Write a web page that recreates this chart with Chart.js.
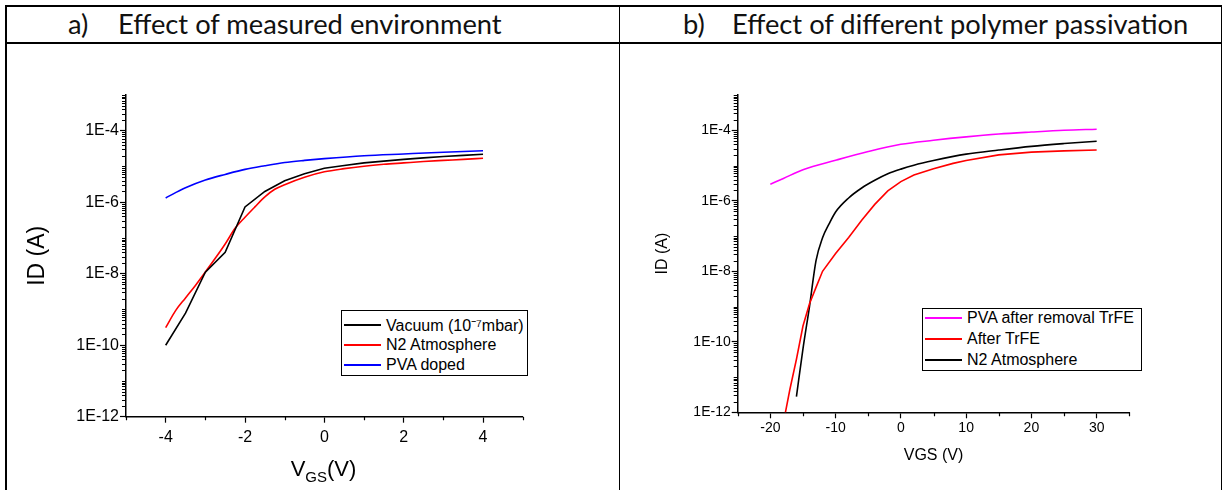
<!DOCTYPE html>
<html>
<head>
<meta charset="utf-8">
<script src="https://cdn.jsdelivr.net/npm/chart.js@4.4.0/dist/chart.umd.min.js"></script>
<style>
  html, body { margin: 0; padding: 0; background: #fff; }
  #page { position: relative; width: 1224px; height: 490px; overflow: hidden; font-family: 'Liberation Sans', Arial, sans-serif; color: #000; }
  .rule { position: absolute; background: #000; }
  .title { position: absolute; top: 5px; height: 38px; line-height: 38px; font-family: Lato, 'Open Sans', sans-serif; font-size: 27.3px; white-space: nowrap; color: #111; }
  .panel { position: absolute; }
  .legend { position: absolute; box-sizing: border-box; border: 1.3px solid #000; background: #fff; font-size: 16px; }
  .legend .row { position: absolute; left: 0; height: 20px; display: flex; align-items: center; white-space: nowrap; }
  .legend .swatch { display: inline-block; width: 37px; height: 0; border-top: 2px solid; margin: 0 5px 0 2px; }
  .xtitle { position: absolute; font-size: 22px; line-height: 22px; white-space: nowrap; transform: translateX(-50%); }
  .xtitle sub { font-size: 15px; vertical-align: -6px; }
</style>
</head>
<body>
<div id="page">
  <div class="rule" style="left:5px;top:5px;width:1217px;height:1.5px"></div>
  <div class="rule" style="left:5px;top:42px;width:1217px;height:1.5px"></div>
  <div class="rule" style="left:5px;top:5px;width:1.5px;height:485px"></div>
  <div class="rule" style="left:618.5px;top:5px;width:1.5px;height:485px"></div>
  <div class="rule" style="left:1220.5px;top:5px;width:1.5px;height:485px"></div>

  <div class="title" style="left:68px">a)</div>
  <div class="title" style="left:118px">Effect of measured environment</div>
  <div class="title" style="left:683px">b)</div>
  <div class="title" style="left:732px">Effect of different polymer passivation</div>

  <div class="panel" style="left:6px;top:44px;width:612px;height:446px"><canvas id="chartA"></canvas></div>
  <div class="panel" style="left:621px;top:44px;width:600px;height:446px"><canvas id="chartB"></canvas></div>

  <div class="xtitle" style="left:323.5px;top:458px">V<sub>GS</sub>(V)</div>

  <div class="legend" id="legendA" style="left:341px;top:310px;width:187px;height:66px"></div>
  <div class="legend" id="legendB" style="left:922px;top:308px;width:220px;height:63px"></div>
</div>

<script>
// ---- panel a : effect of measured environment ----
const vgsVacuum = [-4, -3.5, -3, -2.5, -2, -1.5, -1, -0.5, 0, 0.5, 1, 1.5, 2, 2.5, 3, 3.5, 4]
const idVacuum = [1.0e-10, 7.9e-10, 1.1e-8, 4.0e-8, 7.4e-7, 2.0e-6, 4.0e-6, 6.3e-6, 8.9e-6, 1.07e-5, 1.26e-5, 1.41e-5, 1.58e-5, 1.74e-5, 1.9e-5, 2.04e-5, 2.19e-5]

const vgsN2 = [-4, -3.75, -3.5, -3.25, -3, -2.75, -2.5, -2.25, -2, -1.75, -1.5, -1.25, -1, -0.5, 0, 0.5, 1, 1.5, 2, 2.5, 3, 3.5, 4]
const idN2 = [3.1e-10, 9.3e-10, 2.1e-9, 4.7e-9, 1.12e-8, 2.7e-8, 6.8e-8, 1.86e-7, 3.8e-7, 7.4e-7, 1.41e-6, 2.3e-6, 3.1e-6, 5.0e-6, 7.1e-6, 8.7e-6, 1.02e-5, 1.15e-5, 1.26e-5, 1.38e-5, 1.48e-5, 1.58e-5, 1.7e-5]

const vgsPva = [-4, -3.75, -3.5, -3, -2.5, -2, -1.5, -1, -0.5, 0, 1, 2, 3, 4]
const idPva = [1.32e-6, 1.86e-6, 2.55e-6, 4.2e-6, 6.0e-6, 8.3e-6, 1.05e-5, 1.29e-5, 1.48e-5, 1.66e-5, 2.0e-5, 2.24e-5, 2.5e-5, 2.75e-5]

const labelsA = ['Vacuum (10\u207B\u2077mbar)', 'N2 Atmosphere', 'PVA doped']
const xTicksA = [-4, -2, 0, 2, 4]
const xMinorA = [-5, -3, -1, 1, 3, 5]

// ---- panel b : effect of different polymer passivation ----
const vgsPvaRemoved = [-20, -18, -15, -10, -5, 0, 5, 10, 15, 20, 25, 30]
const idPvaRemoved = [2.95e-6, 4.3e-6, 7.6e-6, 1.41e-5, 2.5e-5, 4.0e-5, 5.2e-5, 6.5e-5, 7.8e-5, 8.9e-5, 1.0e-4, 1.07e-4]

const vgsTrfe = [-18, -17, -16, -15, -14, -13, -12, -10, -8, -6, -4, -2, 0, 2, 5, 8, 10, 15, 20, 25, 30]
const idTrfe = [5.0e-13, 4.5e-12, 3.2e-11, 2.8e-10, 1.2e-9, 3.5e-9, 1.0e-8, 3.2e-8, 9.1e-8, 2.8e-7, 7.9e-7, 1.9e-6, 3.5e-6, 5.4e-6, 8.1e-6, 1.15e-5, 1.38e-5, 2.0e-5, 2.4e-5, 2.6e-5, 2.75e-5]

const vgsN2B = [-16, -15, -14, -13, -12, -11, -10, -8, -6, -4, -2, 0, 2, 5, 10, 15, 20, 25, 30]
const idN2B = [2.8e-12, 6.3e-11, 1.0e-9, 2.0e-8, 8.9e-8, 2.2e-7, 4.8e-7, 1.2e-6, 2.3e-6, 3.8e-6, 5.8e-6, 7.9e-6, 1.02e-5, 1.38e-5, 2.1e-5, 2.75e-5, 3.5e-5, 4.2e-5, 4.9e-5]

const labelsB = ['PVA after removal TrFE', 'After TrFE', 'N2 Atmosphere']
const xTicksB = [-20, -10, 0, 10, 20, 30]
const xMinorB = [-25, -15, -5, 5, 15, 25, 35]

// shared log axis
const yTickValues = [1e-12, 1e-10, 1e-8, 1e-6, 1e-4]
const yTickLabels = ['1E-12', '1E-10', '1E-8', '1E-6', '1E-4']

Chart.defaults.font.family = "'Liberation Sans', Arial, sans-serif"
Chart.defaults.color = '#000'

const toPoints = (xs, ys) => xs.map((x, i) => ({ x: x, y: ys[i] }))

// small unlabeled ticks on both axes (origin style)
const minorTicks = {
    id: 'minorTicks',
    afterDraw(chart, args, opts) {
        const { ctx } = chart
        const xs = chart.scales.x
        const ys = chart.scales.y
        ctx.save()
        ctx.strokeStyle = '#000'
        ctx.lineWidth = 1.2
        ctx.beginPath()
        opts.xValues.forEach(v => {
            const px = Math.round(xs.getPixelForValue(v)) + 0.5
            ctx.moveTo(px, xs.top)
            ctx.lineTo(px, xs.top + opts.xLength)
        })
        for (let e = -12; e <= -3; e++) {
            for (let k = 1; k <= 9; k++) {
                if (e === -3 && k > 1) break
                if (k === 1 && e % 2 === 0 && e !== -3) continue
                const py = Math.round(ys.getPixelForValue(k * Math.pow(10, e))) + 0.5
                ctx.moveTo(ys.right - opts.yLength, py)
                ctx.lineTo(ys.right, py)
            }
        }
        ctx.stroke()
        ctx.restore()
    }
}

const makeChart = (id, datasets, cfg) => {
    return new Chart(document.getElementById(id), {
        type: 'line',
        data: { datasets: datasets },
        plugins: [minorTicks],
        options: {
            responsive: true,
            maintainAspectRatio: false,
            animation: false,
            layout: { padding: { left: 0, top: cfg.top, right: cfg.right, bottom: 0 } },
            elements: { point: { radius: 0 }, line: { tension: 0, borderWidth: 1.6 } },
            plugins: {
                legend: { display: false },
                tooltip: { enabled: false },
                minorTicks: { xValues: cfg.xMinor, xLength: cfg.minorLen, yLength: 4 }
            },
            scales: {
                x: {
                    type: 'linear',
                    min: cfg.xMin,
                    max: cfg.xMax,
                    afterBuildTicks: s => { s.ticks = cfg.xTicks.map(v => ({ value: v })) },
                    afterFit: s => { s.height = cfg.xHeight },
                    border: { display: true, color: '#000', width: 1.5 },
                    grid: { drawOnChartArea: false, drawTicks: true, tickLength: 6, tickColor: '#000', tickWidth: 1.2 },
                    ticks: { font: { size: cfg.tickSize }, padding: cfg.xTickPad, maxRotation: 0, autoSkip: false, callback: v => String(v) },
                    title: cfg.xTitle
                },
                y: {
                    type: 'logarithmic',
                    min: 1e-12,
                    max: 1e-3,
                    afterBuildTicks: s => { s.ticks = yTickValues.map(v => ({ value: v })) },
                    afterFit: s => { s.width = cfg.yWidth },
                    border: { display: true, color: '#000', width: 1.5 },
                    grid: { drawOnChartArea: false, drawTicks: true, tickLength: 6, tickColor: '#000', tickWidth: 1.2 },
                    ticks: { font: { size: cfg.tickSize }, padding: 1, autoSkip: false, callback: (v, i) => yTickLabels[i] },
                    title: cfg.yTitle
                }
            }
        }
    })
}

const chartA = makeChart('chartA', [
    { label: labelsA[0], data: toPoints(vgsVacuum, idVacuum), borderColor: '#000000' },
    { label: labelsA[1], data: toPoints(vgsN2, idN2), borderColor: '#ff0000', cubicInterpolationMode: 'monotone' },
    { label: labelsA[2], data: toPoints(vgsPva, idPva), borderColor: '#0000ff', cubicInterpolationMode: 'monotone' }
], {
    top: 51, right: 95.3, yWidth: 120, xHeight: 73.3,
    xMin: -5, xMax: 5, xTicks: xTicksA, xMinor: xMinorA, minorLen: 3.5,
    tickSize: 16, xTickPad: 5,
    xTitle: { display: false },
    yTitle: { display: true, text: 'ID (A)', font: { size: 23 }, padding: { top: 17.7, bottom: 0 } }
})

const chartB = makeChart('chartB', [
    { label: labelsB[0], data: toPoints(vgsPvaRemoved, idPvaRemoved), borderColor: '#ff00ff', cubicInterpolationMode: 'monotone' },
    { label: labelsB[1], data: toPoints(vgsTrfe, idTrfe), borderColor: '#ff0000' },
    { label: labelsB[2], data: toPoints(vgsN2B, idN2B), borderColor: '#000000', cubicInterpolationMode: 'monotone' }
], {
    top: 51, right: 91.7, yWidth: 116.7, xHeight: 77.7,
    xMin: -25, xMax: 35, xTicks: xTicksB, xMinor: xMinorB, minorLen: 4,
    tickSize: 14, xTickPad: 1.5,
    xTitle: { display: true, text: 'VGS (V)', font: { size: 16 }, padding: { top: 0, bottom: 25 } },
    yTitle: { display: true, text: 'ID (A)', font: { size: 16 }, padding: { top: 32.4, bottom: 0 } }
})

// boxed legends inside the plots, built from the datasets
const buildLegend = (chart, boxId, rowTops) => {
    const box = document.getElementById(boxId)
    chart.data.datasets.forEach((ds, i) => {
        const row = document.createElement('div')
        row.className = 'row'
        row.style.top = rowTops[i] + 'px'
        row.innerHTML = '<span class="swatch" style="border-color:' + ds.borderColor + '"></span><span>' + ds.label + '</span>'
        box.appendChild(row)
    })
}
buildLegend(chartA, 'legendA', [4, 24, 44])
buildLegend(chartB, 'legendB', [-1, 20, 41])
</script>
</body>
</html>
